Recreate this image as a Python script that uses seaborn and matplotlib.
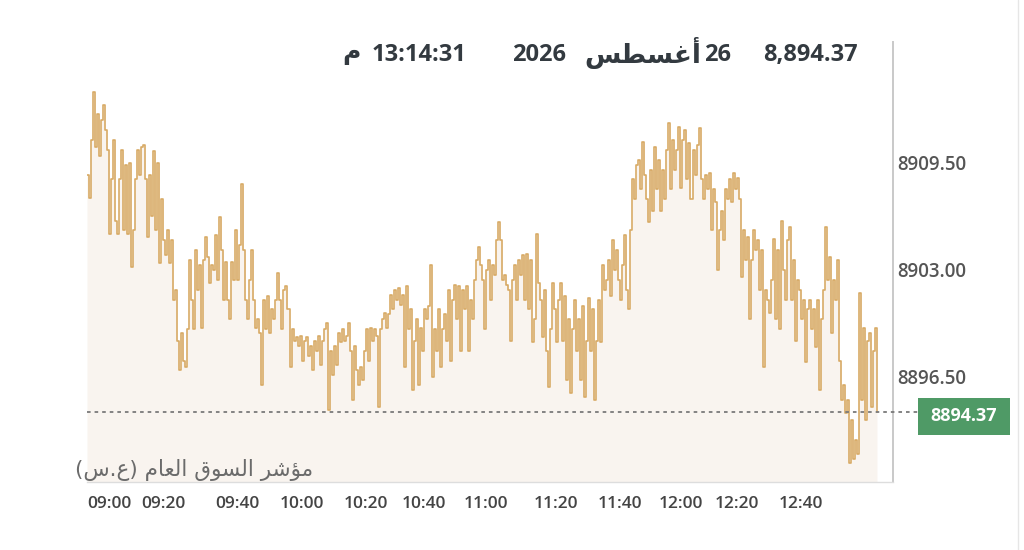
# Intraday index chart (TASI style) drawn with seaborn
import numpy as np
import pandas as pd
import matplotlib
matplotlib.use("Agg")
from matplotlib import pyplot as plt
from matplotlib.patches import Rectangle
import seaborn as sns

# intraday index values (one row ~ 10 px of the chart)
values = [
    8908.8, 8907.4, 8910.9, 8913.8, 8910.5,
    8912.5, 8909.9, 8912.1, 8913.0, 8911.5,
    8910.3, 8905.2, 8908.5, 8910.9, 8906.0,
    8905.2, 8908.5, 8910.3, 8905.4, 8909.4,
    8905.2, 8909.5, 8903.2, 8905.4, 8908.5,
    8910.3, 8908.8, 8910.5, 8910.6, 8908.5,
    8905.0, 8908.8, 8906.3, 8910.2, 8905.4,
    8909.5, 8903.4, 8907.3, 8904.8, 8903.9,
    8905.4, 8903.4, 8904.8, 8901.2, 8901.8,
    8898.7, 8896.9, 8899.2, 8897.5, 8897.1,
    8899.4, 8903.6, 8901.2, 8899.4, 8904.2,
    8901.8, 8903.3, 8899.5, 8903.6, 8905.0,
    8903.8, 8902.2, 8903.3, 8903.0, 8905.1,
    8902.4, 8906.2, 8904.2, 8901.2, 8903.5,
    8901.2, 8900.0, 8903.5, 8902.4, 8905.4,
    8902.4, 8904.5, 8908.2, 8904.2, 8901.2,
    8900.0, 8902.4, 8904.2, 8901.2, 8899.5,
    8900.0, 8899.2, 8896.0, 8901.2, 8899.4,
    8901.4, 8899.2, 8900.6, 8900.0, 8901.2,
    8902.8, 8901.2, 8899.4, 8901.8, 8902.0,
    8900.6, 8897.1, 8899.4, 8898.7, 8898.9,
    8898.4, 8899.0, 8897.5, 8898.7, 8898.9,
    8897.8, 8898.4, 8896.9, 8898.7, 8898.1,
    8899.0, 8897.2, 8898.7, 8899.4, 8899.8,
    8894.5, 8898.1, 8896.6, 8898.4, 8897.2,
    8899.2, 8898.6, 8899.4, 8898.7, 8899.0,
    8899.8, 8898.1, 8895.1, 8898.4, 8896.9,
    8896.0, 8897.1, 8896.3, 8898.1, 8899.4,
    8897.5, 8899.5, 8898.7, 8899.4, 8899.0,
    8894.7, 8899.4, 8900.0, 8900.4, 8899.5,
    8900.3, 8901.5, 8900.6, 8901.8, 8901.2,
    8901.9, 8900.9, 8901.5, 8897.1, 8902.0,
    8899.4, 8900.6, 8895.7, 8898.7, 8900.0,
    8896.0, 8899.5, 8898.1, 8900.6, 8900.0,
    8900.8, 8903.3, 8896.5, 8899.4, 8898.1,
    8900.6, 8897.1, 8899.4, 8900.3, 8898.7,
    8901.8, 8897.5, 8901.2, 8902.1, 8900.0,
    8902.0, 8898.1, 8901.8, 8900.6, 8902.0,
    8898.1, 8901.2, 8900.0, 8902.4, 8903.6,
    8904.4, 8903.3, 8902.4, 8899.4, 8903.0,
    8903.6, 8901.2, 8903.3, 8902.7, 8904.8,
    8905.9, 8904.8, 8902.4, 8902.7, 8902.1,
    8901.8, 8898.7, 8902.4, 8903.3, 8901.2,
    8903.6, 8902.7, 8903.9, 8901.2, 8904.0,
    8900.6, 8903.6, 8898.6, 8900.0, 8905.2,
    8902.2, 8901.2, 8898.9, 8901.8, 8898.1,
    8895.9, 8899.4, 8902.2, 8900.6, 8898.6,
    8901.2, 8902.2, 8898.7, 8901.4, 8896.3,
    8900.0, 8895.5, 8899.4, 8901.2, 8898.1,
    8900.0, 8896.3, 8900.8, 8895.3, 8898.7,
    8901.3, 8898.1, 8900.6, 8895.1, 8898.7,
    8901.2, 8898.6, 8903.3, 8901.8, 8902.4,
    8903.6, 8901.4, 8904.8, 8903.0, 8904.2,
    8902.4, 8901.2, 8903.3, 8905.1, 8901.8,
    8900.6, 8905.4, 8908.5, 8907.3, 8909.4,
    8909.7, 8907.9, 8910.8, 8908.8, 8907.3,
    8905.9, 8909.1, 8906.6, 8910.5, 8907.9,
    8909.7, 8906.6, 8909.1, 8907.3, 8910.3,
    8911.9, 8907.9, 8910.9, 8909.1, 8910.3,
    8911.7, 8908.0, 8910.9, 8911.5, 8908.5,
    8910.7, 8907.3, 8910.3, 8908.8, 8910.6,
    8911.6, 8908.5, 8907.3, 8908.8, 8907.9,
    8908.9, 8905.4, 8907.9, 8907.1, 8903.0,
    8905.4, 8906.6, 8904.8, 8907.9, 8907.3,
    8908.5, 8907.1, 8908.9, 8907.9, 8908.6,
    8907.3, 8902.6, 8905.4, 8903.6, 8905.0,
    8900.0, 8903.6, 8905.4, 8904.2, 8904.8,
    8901.8, 8904.2, 8897.1, 8901.8, 8901.2,
    8900.4, 8902.4, 8904.9, 8900.0, 8904.2,
    8899.4, 8906.0, 8903.0, 8901.2, 8904.8,
    8905.6, 8901.2, 8903.6, 8898.7, 8902.4,
    8901.8, 8900.0, 8901.2, 8897.4, 8900.6,
    8901.2, 8899.4, 8900.6, 8898.3, 8901.2,
    8895.7, 8900.0, 8901.8, 8905.6, 8902.4,
    8903.8, 8899.2, 8902.4, 8901.2, 8903.6,
    8897.5, 8895.1, 8896.0, 8894.3, 8895.1,
    8891.3, 8893.9, 8891.5, 8892.7, 8891.8,
    8901.6, 8895.1, 8899.5, 8893.9, 8898.7,
    8899.2, 8894.7, 8898.1, 8899.5, 8894.37,
]

# time labels and the sample index where each one sits
time_labels = ["09:00", "09:20", "09:40", "10:00", "10:20", "10:40",
               "11:00", "11:20", "11:40", "12:00", "12:20", "12:40"]
time_ticks = [0, 38, 75, 107, 139, 168, 199, 234, 266, 296, 324, 356]

y_ticks = [8896.5, 8903.0, 8909.5]

# Arabic strings, pre-shaped into visual (left-to-right) order
month_text = "\ufeb2\ufec4\ufeb4\ufecf\ufe83"                  # أغسطس
day_text = "26"
year_text = "2026"
clock_text = "13:14:31"
pm_text = "\ufee1"                                             # م
index_name = ("(\ufeb1.\ufec9) "                               # (ع.س)
              "\ufee1\ufe8e\ufecc\ufedf\ufe8d "                # العام
              "\ufed5\ufeee\ufeb4\ufedf\ufe8d "                # السوق
              "\ufeae\ufeb7\ufe86\ufee3")                      # مؤشر

LINE = "#d4a256"
FILL = "#f9f4ef"
GREEN = "#4f9a66"
HEAD = "#333a40"

df = pd.DataFrame({"idx": np.arange(len(values)), "value": values})
last = values[-1]

sns.set_style("white")
plt.rcParams["font.family"] = ["Open Sans", "DejaVu Sans"]

fig = plt.figure(figsize=(10.24, 5.5), dpi=100)
ax = fig.add_axes([87 / 1024, 1 - 482 / 550, 806 / 1024, 440 / 550])

ymin, ymax = 8890.12, 8916.85
ax.fill_between(df["idx"], df["value"], ymin, color=FILL, lw=0, zorder=1,
                step="post")
sns.lineplot(data=df, x="idx", y="value", ax=ax, color=LINE, lw=1.2,
             alpha=0.9, zorder=3, drawstyle="steps-post")

ax.set_xlim(0, 402)
ax.set_ylim(ymin, ymax)

# spines: only right and bottom, light grey
for side in ["left", "top"]:
    ax.spines[side].set_visible(False)
ax.spines["right"].set_color("#c9c9c9")
ax.spines["right"].set_linewidth(1.4)
ax.spines["bottom"].set_color("#dddddd")
ax.spines["bottom"].set_linewidth(1.0)

ax.yaxis.tick_right()
ax.set_yticks(y_ticks)
ax.set_yticklabels([f"{v:.2f}" for v in y_ticks], fontsize=13.5,
                   color="#555555", fontweight="semibold")
ax.set_xticks(time_ticks)
ax.set_xticklabels(time_labels, fontsize=12.5, color="#444444",
                   fontweight="semibold")
ax.get_xticklabels()[0].set_ha("left")
ax.tick_params(axis="both", length=0)
ax.tick_params(axis="y", pad=3)
ax.tick_params(axis="x", pad=10)
ax.set_xlabel("")
ax.set_ylabel("")

# dotted line at the last value, running out to the price tag
ax.axhline(last, xmin=0, xmax=(918 - 87) / 806, color="#7a7a7a",
           lw=1.3, ls=(0, (2, 2.2)), clip_on=False, zorder=4)

# green price tag
fig.patches.append(Rectangle((918 / 1024, 1 - 435 / 550), 92 / 1024, 37 / 550,
                             transform=fig.transFigure, facecolor=GREEN,
                             edgecolor="none"))
fig.text(964 / 1024, 1 - 416 / 550, f"{last:.2f}", ha="center", va="center",
         color="white", fontsize=13, fontweight="bold")

# header, pieces placed left to right as they appear on screen
hy = 1 - 55 / 550
head_kw = dict(ha="right", va="center", fontweight="bold", color=HEAD)
fig.text(858 / 1024, hy, f"{last:,.2f}", fontsize=17, **head_kw)
fig.text(731 / 1024, hy, day_text, fontsize=17, **head_kw)
fig.text(701 / 1024, hy + 0.004, month_text, fontsize=19, **head_kw)
fig.text(566 / 1024, hy, year_text, fontsize=17, **head_kw)
fig.text(466 / 1024, hy, clock_text, fontsize=17, **head_kw)
fig.text(361 / 1024, hy + 0.004, pm_text, fontsize=18, **head_kw)

# index name under the chart
fig.text(75 / 1024, 1 - 470 / 550, index_name, ha="left", va="center",
         fontsize=15.5, color="#6b6b6b", family=["DejaVu Sans"])

# faint frame line at the right edge
fig.add_artist(plt.Line2D([1018 / 1024, 1018 / 1024], [0, 1],
                          transform=fig.transFigure, color="#e6e6e6", lw=1))

fig.savefig("out.png", dpi=100, facecolor="white")
